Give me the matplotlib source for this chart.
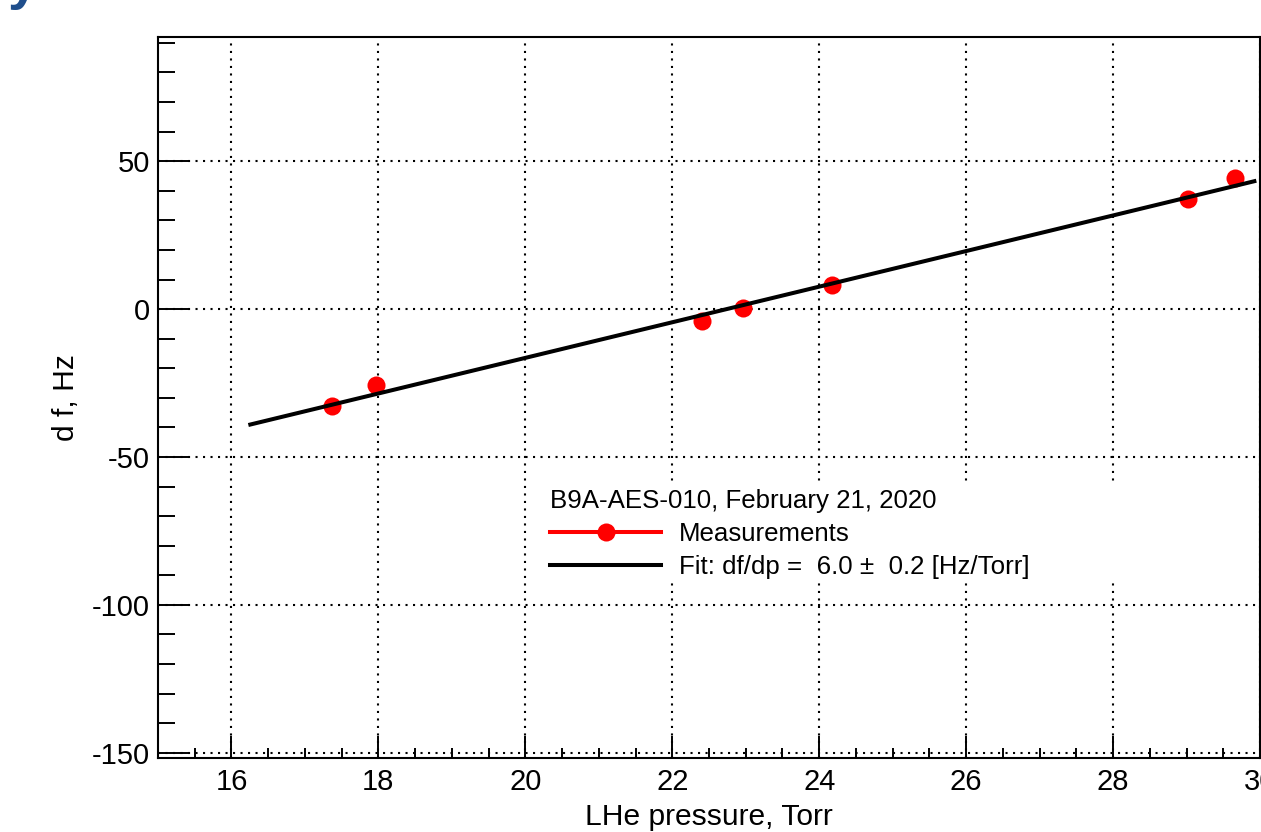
import matplotlib
matplotlib.use("Agg")
import matplotlib.pyplot as plt
from matplotlib.lines import Line2D
from matplotlib.patches import Rectangle
from matplotlib.ticker import MultipleLocator

plt.rcParams['font.family'] = ['Liberation Sans', 'DejaVu Sans']
plt.rcParams['axes.unicode_minus'] = False

# data
pressure = [17.37, 17.97, 22.40, 22.96, 24.18, 29.02, 29.66]
dfreq = [-32.8, -25.7, -4.1, 0.3, 8.1, 37.2, 44.3]
fit_x = [16.23, 29.95]
fit_y = [-39.2, 43.4]
header = "B9A-AES-010, February 21, 2020"
label_meas = "Measurements"
label_fit = "Fit: df/dp =  6.0 \u00b1  0.2 [Hz/Torr]"

W, H = 1261, 832
fig = plt.figure(figsize=(W / 100, H / 100), dpi=100)
L, R, T, B = 158, 1260, 37, 758
ax = fig.add_axes([L / W, (H - B) / H, (R - L) / W, (B - T) / H])

ax.set_xlim(15, 30)
ax.set_ylim(-151.8, 92.0)

dot = (0, (1, 2.6))
ax.grid(True, which='major', color='black', linestyle=dot, linewidth=1.5, zorder=0)
ax.set_axisbelow(True)

# white legend pad that hides the grid behind the legend
ax.add_patch(Rectangle((528 / W, 1 - 578 / H), (1125 - 528) / W, (578 - 483) / H,
                       transform=fig.transFigure, facecolor='white',
                       edgecolor='none', zorder=1.5))

ax.plot(pressure, dfreq, linestyle='none', marker='o', color='red',
        markersize=13, markeredgewidth=0, zorder=3)
ax.plot(fit_x, fit_y, color='black', linewidth=2.9, zorder=4,
        solid_capstyle='butt')

ax.xaxis.set_major_locator(MultipleLocator(2))
ax.xaxis.set_minor_locator(MultipleLocator(0.5))
ax.yaxis.set_major_locator(MultipleLocator(50))
ax.yaxis.set_minor_locator(MultipleLocator(10))

ax.tick_params(axis='both', which='both', direction='in', top=False, right=False,
               labelsize=21, width=1.4, color='black')
ax.tick_params(axis='x', which='major', length=15.8, pad=7)
ax.tick_params(axis='x', which='minor', length=7.2)
ax.tick_params(axis='y', which='major', length=23, pad=6)
ax.tick_params(axis='y', which='minor', length=12.2)
for s in ax.spines.values():
    s.set_linewidth(1.5)

ax.set_xlabel("LHe pressure, Torr", fontsize=21.6)
ax.set_ylabel("d f, Hz", fontsize=21.6)
ax.xaxis.set_label_coords(0.5, -0.062)
ax.yaxis.set_label_coords(-0.071, 0.5)

handles = [
    Line2D([], [], color='red', linewidth=2.9, marker='o', markersize=13,
           markeredgewidth=0),
    Line2D([], [], color='black', linewidth=2.9),
]
leg = ax.legend(handles, [label_meas, label_fit], title=header,
                loc='upper left', bbox_to_anchor=(550 / W, 1 - 489 / H),
                bbox_transform=fig.transFigure,
                fontsize=18.6, title_fontsize=18.6, alignment='left',
                frameon=False,
                handlelength=4.3, handletextpad=0.7, labelspacing=0.34,
                borderpad=0.0, borderaxespad=0, numpoints=1)
leg.set_zorder(5)

# partial slide-title glyph cut by the top edge
fig.text(8 / W, 1 + 2 / H, "y", fontsize=40, fontweight='bold', color='#1f4e8c',
         ha='left', va='baseline')

fig.savefig("out.png", dpi=100)
